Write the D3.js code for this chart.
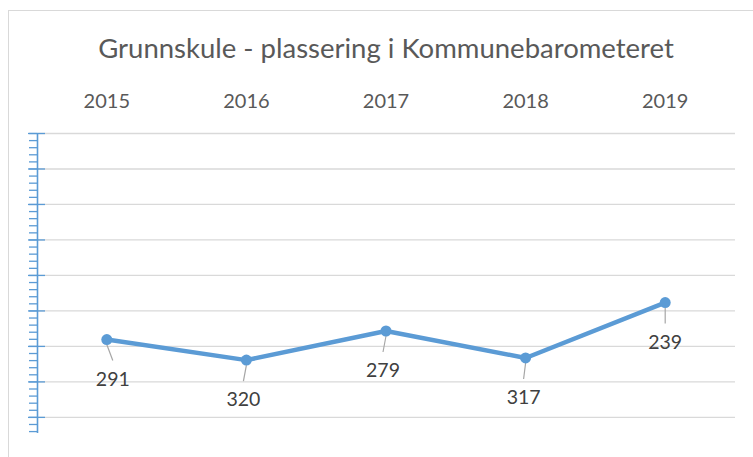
<!DOCTYPE html>
<html><head><meta charset="utf-8">
<script src="https://cdn.jsdelivr.net/npm/d3@7"></script>
<style>body{margin:0;background:#fff}svg{display:block}text{font-family:Lato,"Open Sans",sans-serif}</style>
</head><body><svg id="c" width="753" height="457"></svg>
<script>
(function(){
const title = "Grunnskule - plassering i Kommunebarometeret";
const years = ["2015","2016","2017","2018","2019"];
const ranks = [291, 320, 279, 317, 239];
const yMax = 422;
const majorTicks = d3.range(0, 401, 50);
const minorTicks = d3.range(0, 421, 10);
const labelDx = [6, -3, -3, -2, 0];

const svg = d3.select("#c");
const pL = 37, pR = 735, pT = 133, pB = 432.5;
const x = d3.scaleBand().domain(years).range([pL, pR]);
const y = d3.scaleLinear().domain([0, yMax]).range([pT, pB]);

svg.append("rect").attr("x", 8.5).attr("y", 10.5).attr("width", 800).attr("height", 500)
  .attr("fill", "#fff").attr("stroke", "#d9d9d9").attr("stroke-width", 1);

svg.append("text").attr("x", 386).attr("y", 58).attr("text-anchor", "middle")
  .attr("font-size", 27.5).attr("fill", "#595959").text(title);

const grid = svg.append("g").attr("transform", `translate(${pL},0)`)
  .call(d3.axisLeft(y).tickValues(majorTicks).tickSize(-(pR - pL)).tickFormat(""));
grid.select(".domain").remove();
grid.selectAll("line").attr("stroke", "#d9d9d9").attr("stroke-width", 1.3);

const xa = svg.append("g").attr("transform", `translate(0,${pT})`)
  .call(d3.axisTop(x).tickSize(0).tickPadding(25));
xa.select(".domain").remove();
xa.selectAll("text").attr("font-size", 20).attr("fill", "#595959").attr("font-family", "Lato");

const ya = svg.append("g").attr("transform", `translate(${pL},0)`)
  .call(d3.axisLeft(y).tickValues(minorTicks).tickSize(8).tickSizeOuter(0).tickFormat(""));
ya.selectAll("line").attr("stroke", "#5b9bd5").attr("stroke-width", 1.3);
ya.select(".domain").attr("stroke", "#5b9bd5").attr("stroke-width", 1.6);
const yb = svg.append("g").attr("transform", `translate(${pL},0)`)
  .call(d3.axisLeft(y).tickValues(majorTicks).tickSize(9).tickSizeOuter(0).tickFormat(""));
yb.select(".domain").remove();
yb.selectAll("line").attr("stroke", "#5b9bd5").attr("stroke-width", 1.3).attr("x2", 8).attr("x1", -9);

const cx = d => x(d) + x.bandwidth() / 2;
const pts = years.map((yr, i) => ({yr, v: ranks[i], i}));

svg.append("g").selectAll("line").data(pts).join("line")
  .attr("x1", d => cx(d.yr)).attr("y1", d => y(d.v) + 5)
  .attr("x2", d => cx(d.yr) + labelDx[d.i]).attr("y2", d => y(d.v) + 21)
  .attr("stroke", "#a6a6a6").attr("stroke-width", 1.2);

svg.append("path").datum(pts)
  .attr("d", d3.line().x(d => cx(d.yr)).y(d => y(d.v)))
  .attr("fill", "none").attr("stroke", "#5b9bd5").attr("stroke-width", 4.5).attr("stroke-linejoin", "round");

svg.append("g").selectAll("circle").data(pts).join("circle")
  .attr("cx", d => cx(d.yr)).attr("cy", d => y(d.v)).attr("r", 5.5).attr("fill", "#5b9bd5");

svg.append("g").selectAll("text").data(pts).join("text")
  .attr("x", d => cx(d.yr) + labelDx[d.i]).attr("y", d => y(d.v) + 46)
  .attr("text-anchor", "middle").attr("font-size", 19.5).attr("fill", "#404040")
  .text(d => d.v);
})();
</script></body></html>
